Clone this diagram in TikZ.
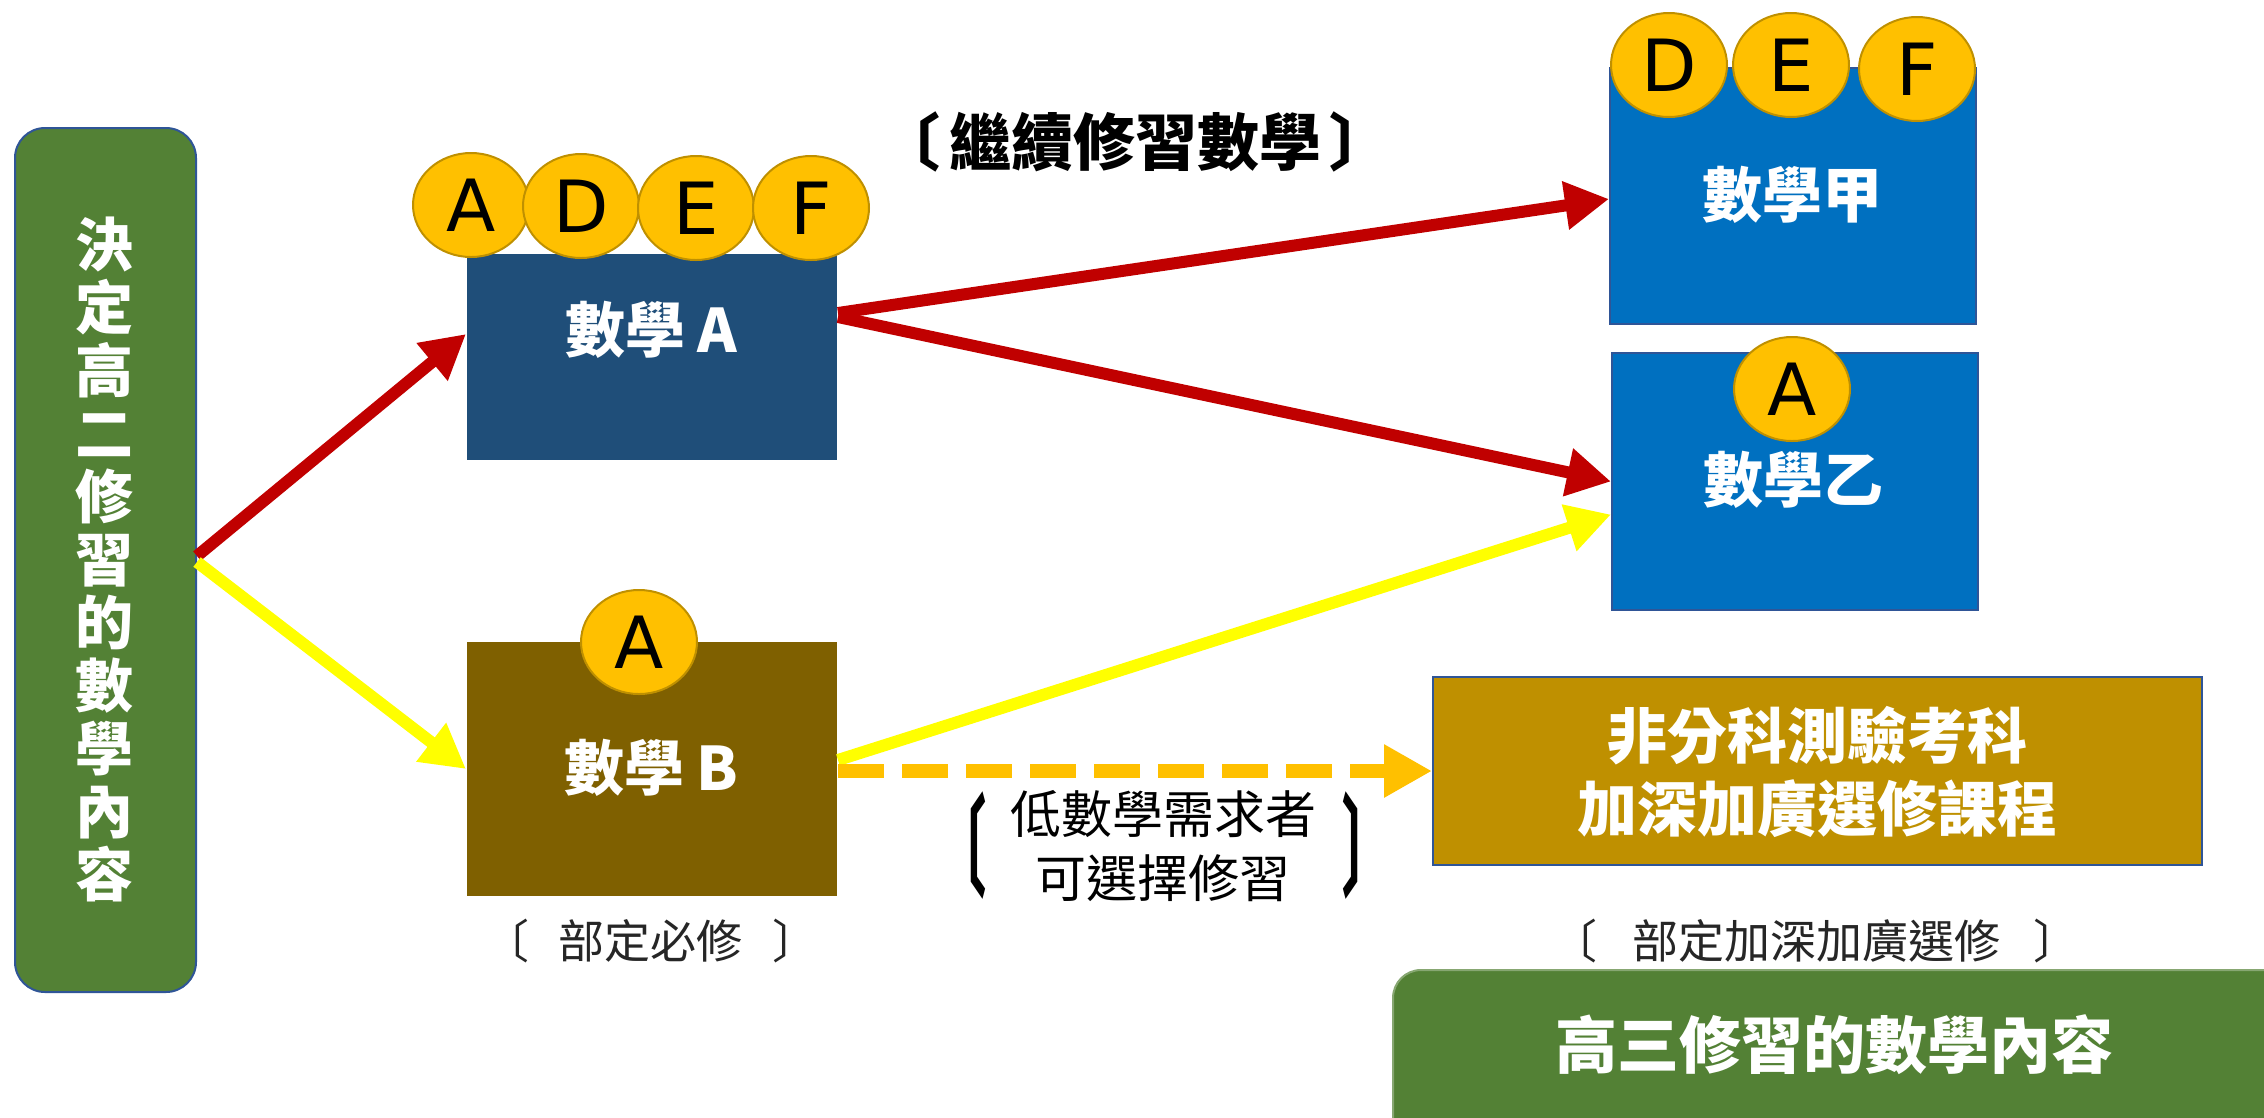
\documentclass[tikz,border=0pt]{standalone}
\usepackage{fontspec}
\setmainfont{Noto Sans CJK TC}
\newfontfamily\lat{DejaVu Sans}
\usetikzlibrary{arrows.meta,calc,shapes.geometric}
\definecolor{gbox}{HTML}{538135}
\definecolor{bdark}{HTML}{1F4E79}
\definecolor{bmid}{HTML}{0070C0}
\definecolor{bbrown}{HTML}{7F6000}
\definecolor{bgold}{HTML}{BF9000}
\definecolor{coin}{HTML}{FFC000}
\definecolor{coinb}{HTML}{BF9000}
\definecolor{redc}{HTML}{C00000}
\definecolor{yel}{HTML}{FFFF00}
\definecolor{edgec}{HTML}{2F5597}
\begin{document}
\begin{tikzpicture}[x=1pt,y=-1pt,
  box/.style={draw=edgec,line width=2pt,inner sep=0pt,anchor=north west},
  wtxt/.style={text=white,font=\fontsize{60}{73}\selectfont\bfseries,align=center,inner sep=0pt},
  coinnode/.style={ellipse,fill=coin,draw=coinb,line width=2pt,minimum width=116pt,minimum height=104pt,inner sep=0pt,font=\lat\fontsize{72}{72}\selectfont},
  redarr/.style={draw=redc,line width=12pt,-{Triangle[length=44pt,width=46pt]}},
  yelarr/.style={draw=yel,line width=12pt,-{Triangle[length=44pt,width=46pt]}},
  dasharr/.style={draw=coin,line width=14pt,dash pattern=on 46pt off 18pt,-{Triangle[length=48pt,width=50pt]}},
  note/.style={text=black!85,font=\fontsize{46}{64}\selectfont,inner sep=0pt,align=center},
  bigbr/.style={inner sep=0pt,font=\fontsize{48}{48}\selectfont\bfseries}
]
\useasboundingbox (0,0) rectangle (2264,1117);

% left box
\node[box,fill=gbox,rounded corners=30pt,minimum width=181pt,minimum height=864pt] (L) at (14,127) {};
\node[wtxt,font=\fontsize{58}{63}\selectfont\bfseries] (Lt) at (104,559) {決\\定\\高\\二\\修\\習\\的\\數\\學\\內\\容};

% math A
\node[box,fill=bdark,draw=none,minimum width=370pt,minimum height=206pt] (mA) at (466,253) {};
\node[wtxt] (mAt) at (651,330) {數學\hspace{12pt}A};
% math B
\node[box,fill=bbrown,draw=none,minimum width=370pt,minimum height=254pt] (mB) at (466,641) {};
\node[wtxt] (mBt) at (651,768) {數學\hspace{12pt}B};
% math jia
\node[box,fill=bmid,minimum width=366pt,minimum height=256pt] (mJ) at (1609,67) {};
\node[wtxt] (mJt) at (1792,195) {數學甲};
% math yi
\node[box,fill=bmid,minimum width=366pt,minimum height=257pt] (mY) at (1611,352) {};
\node[wtxt] (mYt) at (1793,480) {數學乙};
% orange box
\node[box,fill=bgold,minimum width=769pt,minimum height=188pt] (O) at (1432,676) {};
\node[wtxt] (Ot) at (1817,772) {非分科測驗考科\\加深加廣選修課程};
% bottom green
\node[box,fill=gbox,draw=gbox!70,rounded corners=28pt,minimum width=920pt,minimum height=200pt] (G) at (1392,969) {};
\node[wtxt,font=\fontsize{62}{62}\selectfont\bfseries] (Gt) at (1834,1045) {高三修習的數學內容};

% coins
\node[coinnode] (cA1) at (471,205) {A};
\node[coinnode] (cA2) at (581,206) {D};
\node[coinnode] (cA3) at (696,208) {E};
\node[coinnode] (cA4) at (811,208) {F};
\node[coinnode] (cJ1) at (1669,65) {D};
\node[coinnode] (cJ2) at (1791,65) {E};
\node[coinnode] (cJ3) at (1917,69) {F};
\node[coinnode] (cY1) at (1792,389) {A};
\node[coinnode] (cB1) at (639,642) {A};

% labels
\node[inner sep=0pt,font=\fontsize{62}{62}\selectfont\bfseries] (title) at (1135,142) {〔\hspace{10pt}繼續修習數學\hspace{8pt}〕};
\node[note] (n1) at (651,941) {〔\hspace{30pt}部定必修\hspace{30pt}〕};
\node[note] (n2) at (1815,941) {〔\hspace{36pt}部定加深加廣選修\hspace{32pt}〕};
\node[note,text=black,font=\fontsize{51}{64}\selectfont] (n3) at (1163,846) {低數學需求者\\可選擇修習};
\node[bigbr] (lb) at (962,846) {\scalebox{1}[2.3]{〔}};
\node[bigbr] (rb) at (1366,846) {\scalebox{1}[2.3]{〕}};

% arrows
\draw[redarr] ($(L.east)+(0,-4)$) -- ($(mA.west)+(0,-23)$);
\draw[yelarr] ($(L.east)+(0,2)$) -- (mB.west);
\draw[redarr] ($(mA.east)+(0,-44)$) -- ($(mJ.west)+(0,3)$);
\draw[redarr] ($(mA.east)+(0,-40)$) -- (mY.west);
\draw[yelarr] ($(mB.east)+(0,-9)$) -- ($(mY.west)+(0,33)$);
\draw[dasharr] ($(mB.east)+(0,2)$) -- ($(O.west)+(0,0)$);
\end{tikzpicture}
\end{document}
